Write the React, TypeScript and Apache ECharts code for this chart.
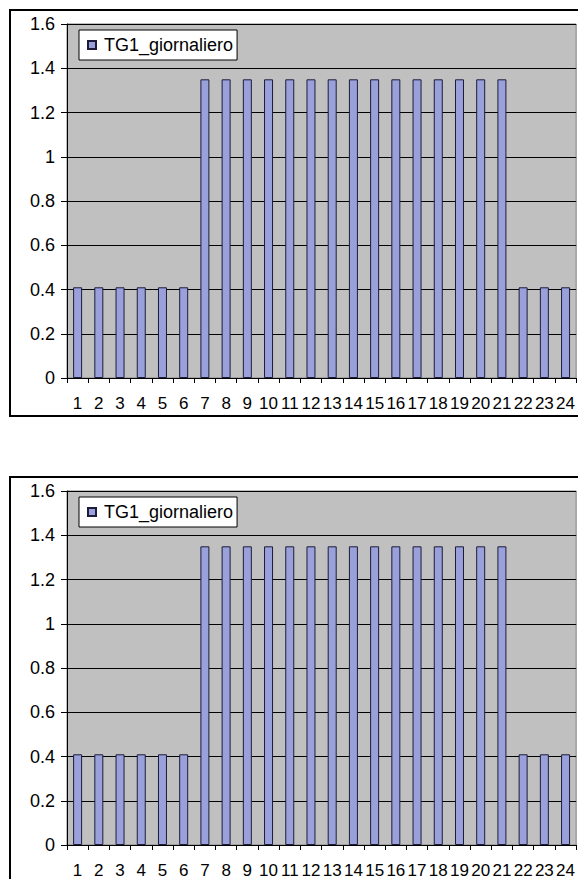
import React, { useEffect, useRef } from "react";
import * as echarts from "echarts";

// Hourly values of the daily TG1 profile
const hours: string[] = [
  "1", "2", "3", "4", "5", "6", "7", "8", "9", "10", "11", "12",
  "13", "14", "15", "16", "17", "18", "19", "20", "21", "22", "23", "24",
];
const tg1Giornaliero: number[] = [
  0.41, 0.41, 0.41, 0.41, 0.41, 0.41,
  1.35, 1.35, 1.35, 1.35, 1.35, 1.35, 1.35, 1.35, 1.35, 1.35, 1.35, 1.35, 1.35, 1.35, 1.35,
  0.41, 0.41, 0.41,
];
const seriesName = "TG1_giornaliero";
const yTicks = { min: 0, max: 1.6, interval: 0.2 };

const FONT = "'Liberation Sans', Arial, sans-serif";
const panelTops = [10, 477];

export default function App() {
  const ref = useRef<HTMLDivElement>(null);

  useEffect(() => {
    if (!ref.current) return;
    const chart = echarts.init(ref.current, null, { renderer: "svg" });

    const grids = panelTops.map((t) => ({
      left: 67,
      top: t + 14,
      width: 510,
      height: 354,
      show: true,
      backgroundColor: "#c0c0c0",
      borderColor: "#808080",
      borderWidth: 1,
    }));

    const xAxes = panelTops.map((_, i) => ({
      type: "category",
      gridIndex: i,
      data: hours,
      axisLine: { lineStyle: { color: "#000", width: 1 } },
      axisTick: { show: true, length: 5, inside: false, alignWithLabel: false, lineStyle: { color: "#000" } },
      axisLabel: { interval: 0, color: "#000", fontSize: 17, fontFamily: FONT, margin: 17 },
    }));

    const yAxes = panelTops.map((_, i) => ({
      type: "value",
      gridIndex: i,
      min: yTicks.min,
      max: yTicks.max,
      interval: yTicks.interval,
      axisLine: { show: true, lineStyle: { color: "#000", width: 1 } },
      axisTick: { show: true, length: 6, inside: false, lineStyle: { color: "#000" } },
      axisLabel: { color: "#000", fontSize: 18, fontFamily: FONT, margin: 12 },
      splitLine: { show: true, lineStyle: { color: "#000", width: 1 } },
    }));

    const series = panelTops.map((_, i) => ({
      name: seriesName,
      type: "bar",
      xAxisIndex: i,
      yAxisIndex: i,
      data: tg1Giornaliero,
      barWidth: 9,
      itemStyle: { color: "#9aa0da", borderColor: "#1c1c3a", borderWidth: 1 },
    }));

    const legends = panelTops.map((t) => ({
      left: 79,
      top: t + 20,
      orient: "horizontal",
      data: [seriesName],
      icon: "rect",
      itemWidth: 8,
      itemHeight: 8,
      padding: [6, 4, 6, 8],
      backgroundColor: "#ffffff",
      borderColor: "#000",
      borderWidth: 1,
      borderRadius: 0,
      selectedMode: false,
      textStyle: { color: "#000", fontSize: 18, fontFamily: FONT, padding: [0, 0, 0, 3] },
    }));

    const frames = panelTops.map((t) => ({
      type: "rect",
      shape: { x: 10, y: t, width: 620, height: 406 },
      style: { fill: "none", stroke: "#000", lineWidth: 2 },
      silent: true,
      z: -1,
    }));

    chart.setOption({
      animation: false,
      backgroundColor: "#ffffff",
      grid: grids,
      xAxis: xAxes,
      yAxis: yAxes,
      legend: legends,
      series,
      graphic: frames,
    });

    return () => chart.dispose();
  }, []);

  return (
    <div
      ref={ref}
      style={{ position: "absolute", left: 0, top: 0, width: 578, height: 879 }}
    />
  );
}
